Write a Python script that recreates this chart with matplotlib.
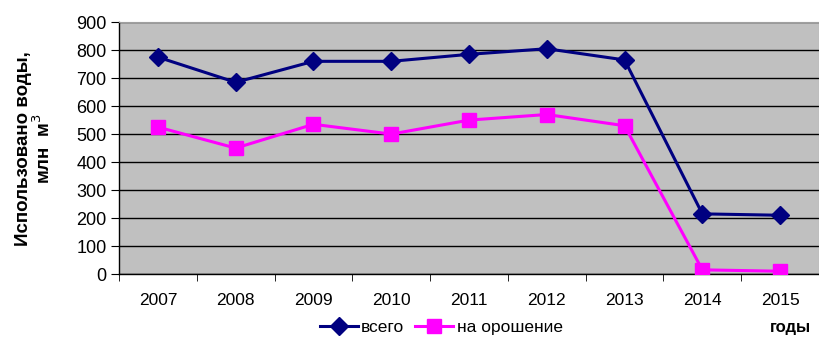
import numpy as np
import matplotlib.pyplot as plt
from matplotlib.ticker import FixedLocator

plt.rcParams["font.family"] = ["Liberation Sans", "DejaVu Sans"]

years = ["2007", "2008", "2009", "2010", "2011", "2012", "2013", "2014", "2015"]
vsego = [775, 685, 760, 760, 785, 805, 765, 215, 210]
oroshenie = [525, 450, 535, 500, 550, 570, 530, 15, 10]

x = np.arange(len(years))

fig = plt.figure(figsize=(8.19, 3.46), dpi=100)
ax = fig.add_axes([0.1453, 0.208, 0.8547, 0.728])
ax.set_facecolor("#c0c0c0")

ax.plot(x, vsego, color="#000080", lw=2.2, marker="D", ms=9,
        label="всего", zorder=3)
ax.plot(x, oroshenie, color="#ff00ff", lw=2.2, marker="s", ms=10,
        label="на орошение", zorder=3)

ax.set_xlim(-0.5, len(years) - 0.5)
ax.set_ylim(0, 900)
ax.set_yticks(range(0, 901, 100))
ax.yaxis.grid(True, color="black", lw=1)
ax.set_axisbelow(True)

# подписи лет по центру категорий, засечки между ними
ax.set_xticks(x)
ax.set_xticklabels(years, fontsize=12.5)
ax.xaxis.set_minor_locator(FixedLocator(np.arange(-0.5, len(years), 1.0)))
ax.tick_params(axis="x", which="major", length=0, pad=14)
ax.tick_params(axis="x", which="minor", length=5, color="black")
ax.tick_params(axis="y", length=6, labelsize=13, pad=3)

for side in ("top", "right"):
    ax.spines[side].set_color("#a0a0a0")
    ax.spines[side].set_linewidth(0.8)
ax.spines["left"].set_linewidth(1)
ax.spines["bottom"].set_linewidth(1)

ax.set_ylabel("Использовано воды,\nмлн  м$^3$", fontsize=13.5, fontweight="bold",
              labelpad=16, linespacing=1.0)

fig.text(0.965, 0.04, "годы", fontsize=12, fontweight="bold", ha="center")
ax.legend(loc="upper center", bbox_to_anchor=(0.46, -0.155), ncol=2,
          frameon=False, fontsize=12.5, handlelength=2.2, columnspacing=0.6,
          handletextpad=0.2, borderaxespad=0)

fig.savefig("out.png", dpi=100)
